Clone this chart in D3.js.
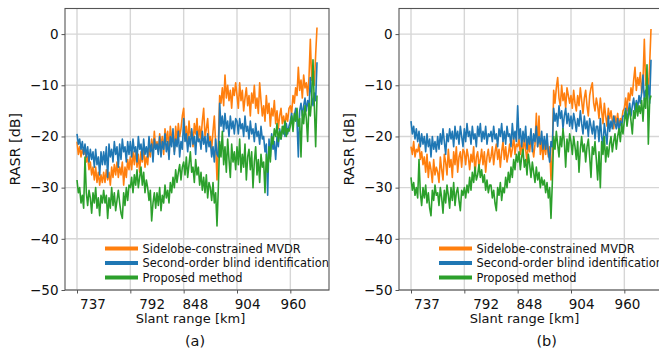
<!DOCTYPE html>
<html>
<head>
<meta charset="utf-8">
<script src="https://cdn.jsdelivr.net/npm/d3@7"></script>
<style>
  body { margin: 0; background: #fff; }
  svg { display: block; font-family: "DejaVu Sans", sans-serif; }
</style>
</head>
<body>
<script>
// one stored value every 25 samples, 181 values per curve (0 .. 4500 samples)
const step = 25;
const gridSamples = [0, 1000, 2000, 3000, 4000];
const rangeTicks = [290, 1400, 2210, 3190, 4050];
const rangeLabels = ["737", "792", "848", "904", "960"];
const dbTicks = [0, -10, -20, -30, -40, -50];
const seriesNames = ["Sidelobe-constrained MVDR", "Second-order blind identification", "Proposed method"];
const seriesColors = ["#ff7f0e", "#1f77b4", "#2ca02c"];

// panel (a)
const mvdrA = [
  -21, -23.5, -22, -24, -22.5, -23.5, -22, -25, -24, -26.5, -25, -27.5, -26, -28.5, -26, -29, -27, -29.5, -27.5, -29,
  -27, -29, -26.5, -28.5, -27, -29.5, -26, -28, -25.5, -27.5, -25, -28, -26, -27.5, -25, -29.5, -26, -28, -24.5, -26.5,
  -24, -26.5, -23, -25.5, -22.5, -26, -23.5, -27, -23, -25, -22, -26, -24, -25.5, -22, -24, -20.5, -23, -19, -22.5,
  -21, -23, -19.5, -22, -20, -23.5, -18.5, -21, -19, -22.5, -18, -20.5, -19.5, -23, -18, -21, -17.5, -20, -18.5, -16,
  -14.5, -20, -18, -21.5, -17, -20, -19, -22, -17.5, -19.5, -16.5, -21, -18, -20.5, -17, -14.5, -20, -18.5, -16.5, -21,
  -20, -22.5, -19, -16, -21.5, -28.5, -22, -12, -13.5, -10.5, -14, -8, -12.5, -10, -13, -11, -14.5, -10.5, -12, -9.5,
  -12, -14.5, -9.5, -13, -11, -15, -12.5, -10.5, -14, -12, -16, -11.5, -13.5, -10, -14.5, -12.5, -15.5, -9.5, -13, -16,
  -14, -17, -12, -15.5, -13.5, -18, -14.5, -16, -13, -17.5, -15, -18.5, -16, -14.5, -17.5, -16, -18, -15.5, -17, -14.5,
  -14, -15.5, -12, -13.5, -10.5, -12, -6.5, -11, -9, -12.5, -8, -10.5, -9.5, -12, -8.5, -1, -9, -6.5, -10, -4, 1.3
];
const sobiA = [
  -19.5, -21.5, -20.5, -22.5, -21, -23.5, -21.5, -24, -22, -25, -22.5, -24.5, -23, -26, -22.5, -25.5, -24, -27.5, -23, -25.5,
  -23, -25.5, -22, -28, -21.5, -24, -22.5, -25, -21, -23.5, -22, -26, -21.5, -24.5, -20.5, -23, -22, -25, -21, -23.5,
  -21, -24, -20.5, -23, -22, -25, -20, -22.5, -21.5, -24.5, -20.5, -23.5, -22, -24, -20, -23, -21.5, -25, -20.5, -22.5,
  -21.5, -23.5, -20, -24, -21, -22.5, -19.5, -23, -21, -24.5, -20, -22, -18.5, -23.5, -20.5, -22, -19, -24, -21, -22.5,
  -16.5, -21, -19.5, -23, -20, -22, -18.5, -21.5, -20, -23.5, -19, -21, -20.5, -22.5, -19, -21.5, -20, -23, -19.5, -22,
  -21, -24, -22, -25, -20.5, -23.5, -24, -13.5, -18, -16, -19, -15.5, -18.5, -17, -20, -16, -18.5, -17, -19.5, -16.5,
  -17, -19.5, -16.5, -18.5, -17.5, -20, -16, -19, -18, -20.5, -17, -19.5, -18.5, -21, -17.5, -20, -19, -21.5, -18, -20.5,
  -20, -23, -21.5, -31.5, -20.5, -24, -19.5, -22.5, -21, -24.5, -20, -22, -18.5, -20.5, -19, -18, -20, -17.5, -19.5, -18,
  -17, -15.5, -18, -16, -14.5, -17, -24, -15, -13.5, -16, -14, -12.5, -15, -13, -14.5, -8.5, -12, -14, -11.5, -13, -5.5
];
const propA = [
  -28.5, -31, -30, -33, -31.5, -34, -24, -31, -33.5, -30.5, -32, -35, -31, -33, -30, -34, -32, -35.5, -31.5, -33,
  -30.5, -33, -31.5, -36, -32, -34, -30, -33.5, -31, -34.5, -32.5, -30.5, -33, -35, -36, -31, -33.5, -30, -32.5, -29.5,
  -30, -28, -31, -27.5, -29.5, -26.5, -30, -28, -26, -29.5, -27, -31, -28.5, -30, -32.5, -30.5, -36.5, -33, -31, -34,
  -31, -33.5, -30, -34.5, -31.5, -33, -29.5, -32, -30.5, -33, -29, -31, -28, -30, -26.5, -29, -27, -25.5, -28.5, -26,
  -25, -27.5, -24, -28, -25.5, -23, -27, -26, -29, -24.5, -27.5, -26, -29.5, -27, -30.5, -28, -31, -27.5, -32, -29,
  -30, -32.5, -29, -33, -31, -37.5, -30, -21, -24, -19, -25.5, -22, -27, -20.5, -24.5, -28, -21.5, -25, -23, -26.5,
  -22, -25.5, -20.5, -27, -23.5, -26, -21.5, -28.5, -24, -22.5, -26.5, -23, -30, -25, -22, -27.5, -24.5, -29, -23.5, -26,
  -25, -31, -23.5, -27, -22, -25, -20, -21.5, -18.5, -20, -17.5, -21, -19, -20.5, -18, -19.5, -17, -20, -18.5, -19,
  -18, -16, -19, -15.5, -17, -14.5, -18, -16.5, -24, -15, -17.5, -14, -16.5, -21, -13.5, -16, -12.5, -5, -14, -22, -12
];

// panel (b)
const mvdrB = [
  -22, -23.5, -21, -24, -22.5, -23, -21.5, -24.5, -23, -25.5, -24, -27, -23.5, -28, -25, -26.5, -29, -24.5, -27.5, -26,
  -27, -29, -24, -26.5, -28.5, -23.5, -25, -27.5, -22.5, -26, -24.5, -28, -23, -25.5, -22, -27, -24, -23, -26, -22.5,
  -23, -25.5, -22.5, -24, -26.5, -23.5, -25, -22, -27.5, -24, -23, -26, -24.5, -22.5, -25.5, -23, -27, -24, -22.5, -25,
  -24, -22, -25.5, -23, -21.5, -24.5, -22.5, -26, -23, -21, -24.5, -22, -25, -23.5, -21.5, -24, -22.5, -20, -23.5, -21.5,
  -22, -20.5, -23.5, -21, -24, -20, -22.5, -25, -21, -23, -20.5, -22, -24, -21.5, -15.5, -22, -16, -23.5, -21, -24.5,
  -21, -23.5, -20.5, -24, -22, -28.5, -23, -11, -13.5, -10.5, -8.5, -12.5, -14, -10, -13, -11.5, -14.5, -10.5, -12, -13.5,
  -12, -14.5, -11, -13.5, -15, -12, -14, -10.5, -13, -15.5, -12.5, -11, -14, -16, -12, -10.5, -9.5, -13.5, -15, -12.5,
  -14, -16.5, -12.5, -15, -17.5, -13.5, -16, -18, -14.5, -16.5, -15, -17, -18.5, -16, -17.5, -15.5, -18, -16.5, -17, -15,
  -14.5, -12.5, -15, -11.5, -13, -10.5, -12, -9, -6.5, -11, -8.5, -10, -7.5, -11.5, -9, -1, -10, -8, -11, -6, 1
];
const sobiB = [
  -17, -19.5, -18, -20.5, -18.5, -21, -19, -22, -19.5, -21.5, -20, -23, -19.5, -22, -20.5, -24, -20, -22.5, -21, -23,
  -20, -22.5, -19.5, -21.5, -18.5, -21, -23.5, -19.5, -21, -18.5, -20.5, -19, -22, -18, -20.5, -19, -21.5, -18, -20, -22,
  -18.5, -21, -17.5, -20, -19, -21.5, -18, -20.5, -19.5, -22, -18, -20, -17.5, -21, -19, -20.5, -18, -21.5, -19.5, -20,
  -19, -21, -18, -20.5, -19.5, -22, -18.5, -20, -17.5, -21, -19, -21.5, -18, -20, -19.5, -22, -17.5, -20.5, -19, -21,
  -14, -20.5, -18.5, -22, -19, -21, -18, -22.5, -20, -21.5, -18.5, -23, -19.5, -21, -18, -22, -20, -21.5, -19, -22.5,
  -20, -22.5, -19.5, -23, -25, -21, -22, -14.5, -17, -15.5, -18, -14, -16.5, -15, -18.5, -16, -14.5, -17.5, -15.5, -18,
  -16, -18.5, -15.5, -17, -19, -16.5, -18, -15, -17.5, -19.5, -16, -18.5, -17, -20, -16.5, -18, -19.5, -17, -20.5, -18,
  -18, -21, -16.5, -20, -22, -17.5, -19.5, -21.5, -16, -19, -17, -18.5, -16, -17.5, -18.5, -16.5, -19, -17, -18, -16,
  -16, -14.5, -17, -15, -13.5, -16, -14, -12.5, -15, -13, -14.5, -12, -13.5, -11.5, -8, -13, -11, -12.5, -10, -13.5, -5
];
const propB = [
  -28, -30.5, -29, -31.5, -30, -32, -24.5, -31, -33.5, -30, -32, -29.5, -33, -31, -34, -35.5, -30.5, -32.5, -29.5, -31.5,
  -31, -33.5, -30, -32, -35, -30.5, -33, -29.5, -31.5, -34, -30, -32.5, -29, -33.5, -31, -30, -32.5, -34.5, -30.5, -31.5,
  -30, -32, -29.5, -31, -28, -30.5, -27, -29, -26, -28.5, -27.5, -25.5, -28, -26.5, -29, -27.5, -30.5, -28.5, -31, -29.5,
  -29.5, -32, -30.5, -33, -34.5, -30, -31.5, -29, -32.5, -30, -31, -28, -30, -27, -29, -26, -28, -24.5, -26.5, -23.5,
  -25, -23, -26.5, -24, -22.5, -26, -24.5, -27.5, -23.5, -25.5, -28, -25, -27, -29, -26, -28.5, -27, -30, -28, -29.5,
  -28.5, -31, -29, -32, -30, -36, -29, -20, -22.5, -19, -21.5, -24, -20, -22, -18.5, -21, -26, -20.5, -23, -19.5,
  -21, -23.5, -20, -22, -24.5, -21, -27, -22.5, -20, -23, -21.5, -25, -22, -20.5, -24, -28, -22, -23.5, -21, -24.5,
  -28.5, -23, -30, -21, -23.5, -20, -25, -22, -24, -21.5, -20, -23, -21, -19.5, -22.5, -20, -18.5, -21, -17.5, -19.5,
  -17, -15, -18, -16, -14.5, -17, -19.5, -15, -16.5, -13.5, -16, -14, -15.5, -13, -17, -12.5, -14.5, -6, -21.5, -13, -12
];

const width = 659, height = 354;
const plotW = 264, plotTop = 8.5, plotBottom = 290;
const ink = "#111";

const svg = d3.select("body").append("svg")
    .attr("width", width)
    .attr("height", height);

const y = d3.scaleLinear().domain([-50, 5]).range([plotBottom, plotTop]);
const dbFormat = d => d === 0 ? "0" : "\u2212" + Math.abs(d);

const panel = (left, curves, caption, captionX) => {
  // matplotlib-style 5% margin around 0..4500 samples
  const x = d3.scaleLinear().domain([-225, 4725]).range([left, left + plotW]);
  const g = svg.append("g");

  // grid
  g.append("g").selectAll("line")
    .data(gridSamples)
    .join("line")
      .attr("x1", d => x(d)).attr("x2", d => x(d))
      .attr("y1", plotTop).attr("y2", plotBottom)
      .attr("stroke", "#d6d6d6").attr("stroke-width", 1.4);
  g.append("g").selectAll("line")
    .data(dbTicks)
    .join("line")
      .attr("x1", left).attr("x2", left + plotW)
      .attr("y1", d => y(d)).attr("y2", d => y(d))
      .attr("stroke", "#d6d6d6").attr("stroke-width", 1.4);

  // curves: orange under blue under green
  const line = d3.line()
      .x((d, i) => x(i * step))
      .y(d => y(d));
  g.append("g").selectAll("path")
    .data(curves)
    .join("path")
      .attr("d", line)
      .attr("fill", "none")
      .attr("stroke", (d, i) => seriesColors[i])
      .attr("stroke-width", 1.6)
      .attr("stroke-linejoin", "round");

  // box
  g.append("rect")
      .attr("x", left).attr("y", plotTop)
      .attr("width", plotW).attr("height", plotBottom - plotTop)
      .attr("fill", "none").attr("stroke", "#555").attr("stroke-width", 1.1);

  // y axis
  const ya = g.append("g")
      .attr("transform", `translate(${left},0)`)
      .call(d3.axisLeft(y).tickValues(dbTicks).tickSize(3.5).tickPadding(3).tickFormat(dbFormat));
  ya.select(".domain").remove();
  ya.selectAll("line").attr("stroke", "#555");
  ya.selectAll("text").attr("font-size", 13.5).attr("font-family", "DejaVu Sans").attr("fill", ink);

  // x axis: tick marks on the grid, labels where the original put them
  const xm = g.append("g")
      .attr("transform", `translate(0,${plotBottom})`)
      .call(d3.axisBottom(x).tickValues(gridSamples).tickSize(3.5).tickFormat(""));
  xm.select(".domain").remove();
  xm.selectAll("line").attr("stroke", "#555");
  const xl = g.append("g")
      .attr("transform", `translate(0,${plotBottom})`)
      .call(d3.axisBottom(x).tickValues(rangeTicks).tickSize(0).tickFormat((d, i) => rangeLabels[i]));
  xl.select(".domain").remove();
  xl.selectAll("text")
      .attr("y", 18.5).attr("dy", null)
      .attr("font-size", 13.5).attr("font-family", "DejaVu Sans").attr("fill", ink);

  // axis titles
  g.append("text")
      .attr("x", left + 125.5).attr("y", 322.5)
      .attr("text-anchor", "middle")
      .attr("font-size", 13).attr("fill", ink)
      .text("Slant range [km]");
  g.append("text")
      .attr("transform", `translate(${left - 45},${(plotTop + plotBottom) / 2}) rotate(-90)`)
      .attr("text-anchor", "middle")
      .attr("font-size", 14.3).attr("fill", ink)
      .text("RASR [dB]");

  // legend
  const lg = g.append("g").attr("transform", `translate(${left + 40},248.5)`);
  const rows = lg.selectAll("g")
    .data(seriesNames)
    .join("g")
      .attr("transform", (d, i) => `translate(0,${i * 14.5})`);
  rows.append("line")
      .attr("x1", 0).attr("x2", 33)
      .attr("stroke", (d, i) => seriesColors[i])
      .attr("stroke-width", 4);
  rows.append("text")
      .attr("x", 37.5).attr("y", 4.2)
      .attr("font-size", 11.4).attr("fill", ink)
      .text(d => d);

  // caption
  g.append("text")
      .attr("x", captionX).attr("y", 346)
      .attr("text-anchor", "middle")
      .attr("font-size", 14.5).attr("fill", ink)
      .text(caption);
};

panel(65, [mvdrA, sobiA, propA], "(a)", 195);
panel(399, [mvdrB, sobiB, propB], "(b)", 546.7);
</script>
</body>
</html>
